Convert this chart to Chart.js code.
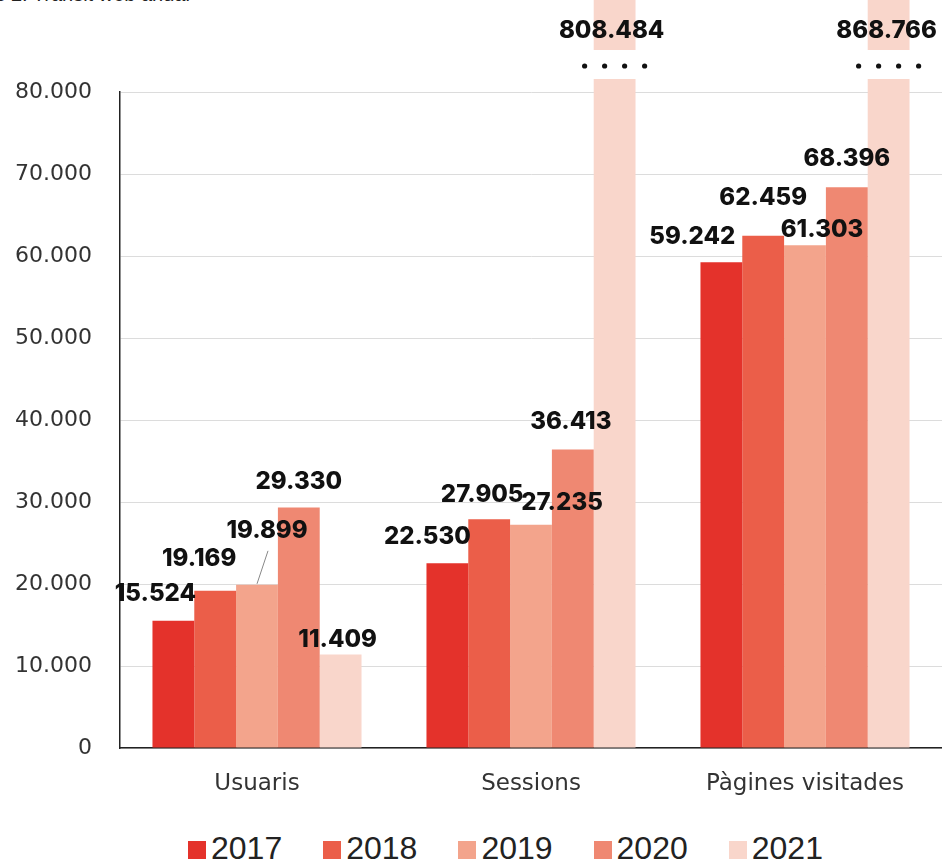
<!DOCTYPE html>
<html>
<head>
<meta charset="utf-8">
<script src="https://cdn.jsdelivr.net/npm/chart.js@4/dist/chart.umd.min.js"></script>
<style>
    html, body { margin: 0; padding: 0; background: #fff; }
    .wrap { position: relative; width: 942px; height: 862px; overflow: hidden; }
    .title {
        position: absolute; top: -17px; left: -58px; white-space: nowrap;
        font-family: "Liberation Sans", Arial, sans-serif; font-size: 20px; color: #222;
    }
    #chart { position: absolute; left: 0; top: 0; }
    .chart-legend { position: absolute; left: 188px; top: 831px; }
    .chart-legend ul { list-style: none; margin: 0; padding: 0; display: flex; gap: 41px; }
    .chart-legend li {
        display: flex; align-items: center; gap: 5px;
        font-family: "Liberation Sans", Arial, sans-serif; font-size: 32px; color: #222; line-height: 34px;
    }
    .legend-box { display: inline-block; width: 18px; height: 18px; margin-top: 4px; }
</style>
</head>
<body>
<div class="wrap">
    <div class="title">Gràfics 2. Trànsit web anual</div>
    <canvas id="chart" width="942" height="800"></canvas>
    <div class="chart-legend"></div>
</div>
<script>
const categories = ['Usuaris', 'Sessions', 'Pàgines visitades'];
const years = ['2017', '2018', '2019', '2020', '2021'];
const values2017 = [15524, 22530, 59242];
const values2018 = [19169, 27905, 62459];
const values2019 = [19899, 27235, 61303];
const values2020 = [29330, 36413, 68396];
const values2021 = [11409, 808484, 868766];
const yMax = 80000;
const yStep = 10000;

(function () {
    const colors = ['#E4322B', '#EB5E49', '#F3A48C', '#EF8872', '#F9D6CB'];
    const series = [values2017, values2018, values2019, values2020, values2021];

    // label nudges [dx, dy] from the bar top, per year then per category
    const labelNudge = [
        [[-18, -27], [-20, -26], [-29, -25]],
        [[-16, -32], [-7, -24], [0, -38]],
        [[10, -54], [31, -22], [17, -16]],
        [[0, -26], [-2, -28], [0, -28]],
        [[-3, -15], [-3, 0], [-2, 0]]
    ];
    const leaderLines = { '2-0': true };
    const overflowLabelY = 31;

    function fmt(v) {
        return v.toString().replace(/\B(?=(\d{3})+(?!\d))/g, '.');
    }

    const breakMarks = {
        id: 'breakMarks',
        afterDatasetsDraw(chart) {
            const ctx = chart.ctx;
            const y = chart.scales.y;
            chart.data.datasets.forEach((ds, i) => {
                const meta = chart.getDatasetMeta(i);
                meta.data.forEach((bar, j) => {
                    if (ds.data[j] <= y.max) return;
                    ctx.save();
                    ctx.fillStyle = '#fff';
                    ctx.fillRect(bar.x - bar.width / 2 - 1, 50, bar.width + 2, 29);
                    ctx.fillStyle = '#111';
                    for (let k = 0; k < 4; k++) {
                        ctx.beginPath();
                        ctx.arc(bar.x - 30 + k * 20, 66, 2.6, 0, Math.PI * 2);
                        ctx.fill();
                    }
                    ctx.restore();
                });
            });
        }
    };

    const valueLabels = {
        id: 'valueLabels',
        afterDatasetsDraw(chart) {
            const ctx = chart.ctx;
            const y = chart.scales.y;
            ctx.save();
            ctx.font = '800 24px Inter, "Noto Sans", sans-serif';
            ctx.fillStyle = '#111';
            ctx.textAlign = 'center';
            ctx.textBaseline = 'middle';
            chart.data.datasets.forEach((ds, i) => {
                const meta = chart.getDatasetMeta(i);
                meta.data.forEach((bar, j) => {
                    const v = ds.data[j];
                    const n = labelNudge[i][j];
                    const lx = bar.x + n[0];
                    const ly = v > y.max ? overflowLabelY : bar.y + n[1];
                    if (leaderLines[i + '-' + j]) {
                        ctx.save();
                        ctx.strokeStyle = '#888';
                        ctx.lineWidth = 1;
                        ctx.beginPath();
                        ctx.moveTo(bar.x, bar.y - 1);
                        ctx.lineTo(lx + 1, ly + 20);
                        ctx.stroke();
                        ctx.restore();
                    }
                    ctx.fillText(fmt(v), lx, ly);
                });
            });
            ctx.restore();
        }
    };

    function buildLegend(chart, container) {
        const ul = document.createElement('ul');
        chart.data.datasets.forEach(ds => {
            const li = document.createElement('li');
            const box = document.createElement('span');
            box.classList.add('legend-box');
            box.style.backgroundColor = ds.backgroundColor;
            const label = document.createElement('span');
            label.textContent = ds.label;
            li.appendChild(box);
            li.appendChild(label);
            ul.appendChild(li);
        });
        container.appendChild(ul);
    }

    function initChart() {
        const canvas = document.getElementById('chart');
        const yFont = { family: '"DejaVu Sans", sans-serif', size: 22 };
        const xFont = { family: '"DejaVu Sans", sans-serif', size: 23 };

        const chart = new Chart(canvas, {
            type: 'bar',
            data: {
                labels: categories,
                datasets: years.map((yr, i) => ({
                    label: yr,
                    data: series[i],
                    backgroundColor: colors[i],
                    borderWidth: 0,
                    categoryPercentage: 0.763,
                    barPercentage: 1,
                    clip: false
                }))
            },
            options: {
                responsive: false,
                animation: false,
                layout: { padding: { top: 92, right: 0, left: 0, bottom: 0 } },
                scales: {
                    x: {
                        grid: { display: false, drawTicks: false },
                        border: { display: true, color: '#222', width: 1.5 },
                        ticks: { color: '#333', font: xFont, padding: 22 },
                        afterFit: (s) => { s.height = 52; }
                    },
                    y: {
                        min: 0,
                        max: yMax,
                        grid: { color: '#dcdcdc', lineWidth: 1, drawTicks: false },
                        border: { display: true, color: '#222', width: 1.5 },
                        ticks: {
                            stepSize: yStep,
                            color: '#333',
                            font: yFont,
                            padding: 28,
                            callback: (v) => fmt(v)
                        },
                        afterFit: (s) => { s.width = 120; }
                    }
                },
                plugins: {
                    legend: { display: false },
                    tooltip: { enabled: false }
                }
            },
            plugins: [breakMarks, valueLabels]
        });

        buildLegend(chart, document.querySelector('.chart-legend'));
    }

    document.addEventListener('DOMContentLoaded', initChart);
})();
</script>
</body>
</html>
